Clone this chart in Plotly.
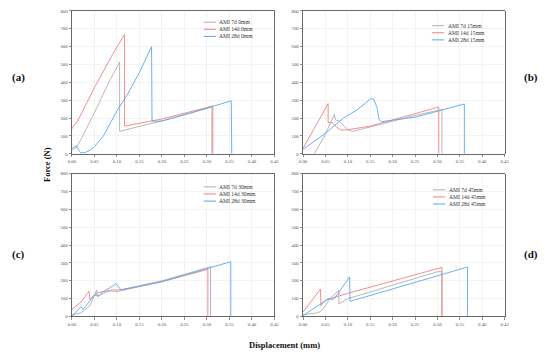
import plotly.graph_objects as go

# ---------------- data ----------------
panel_tags = ["(a)", "(b)", "(c)", "(d)"]
series_names = [
    ["AMI 7d 0mm", "AMI 14d 0mm", "AMI 28d 0mm"],
    ["AMI 7d 15mm", "AMI 14d 15mm", "AMI 28d 15mm"],
    ["AMI 7d 30mm", "AMI 14d 30mm", "AMI 28d 30mm"],
    ["AMI 7d 45mm", "AMI 14d 45mm", "AMI 28d 45mm"],
]
x_ticks = [0.00, 0.05, 0.10, 0.15, 0.20, 0.25, 0.30, 0.35, 0.40, 0.45]
y_ticks = [0, 100, 200, 300, 400, 500, 600, 700, 800]

# panel (a) 0 mm
a7_x = [0.000, 0.010, 0.020, 0.050, 0.080, 0.106, 0.106, 0.200, 0.311, 0.311]
a7_y = [20, 35, 80, 230, 390, 514, 126, 185, 263, 0]
a14_x = [0.000, 0.005, 0.012, 0.050, 0.090, 0.117, 0.117, 0.200, 0.313, 0.313]
a14_y = [140, 160, 180, 370, 555, 668, 155, 195, 268, 0]
a28_x = [0.000, 0.005, 0.010, 0.015, 0.020, 0.030, 0.040, 0.050, 0.070, 0.100,
         0.125, 0.150, 0.177, 0.178, 0.200, 0.280, 0.354, 0.355]
a28_y = [30, 40, 45, 20, 5, 8, 20, 40, 100, 240, 340, 455, 600, 183, 183, 240, 297, 0]

# panel (b) 15 mm
b7_x = [0.025, 0.050, 0.070, 0.072, 0.080, 0.090, 0.100, 0.110, 0.150, 0.250, 0.310, 0.310]
b7_y = [0, 110, 222, 190, 185, 160, 135, 125, 150, 215, 248, 0]
b14_x = [0.000, 0.056, 0.056, 0.065, 0.075, 0.085, 0.100, 0.150, 0.250, 0.303, 0.303]
b14_y = [30, 281, 174, 175, 150, 132, 135, 155, 225, 262, 0]
b28_x = [0.000, 0.050, 0.090, 0.100, 0.120, 0.140, 0.152, 0.158, 0.165, 0.170,
         0.175, 0.250, 0.360, 0.360]
b28_y = [25, 115, 200, 215, 245, 285, 310, 305, 260, 190, 180, 205, 279, 0]

# panel (c) 30 mm
c7_x = [0.000, 0.020, 0.040, 0.055, 0.057, 0.070, 0.090, 0.110, 0.200, 0.308, 0.308]
c7_y = [10, 20, 60, 148, 110, 130, 150, 150, 200, 279, 0]
c14_x = [0.000, 0.020, 0.038, 0.040, 0.050, 0.060, 0.080, 0.100, 0.200, 0.302, 0.302]
c14_y = [40, 80, 142, 95, 120, 135, 145, 140, 195, 264, 0]
c28_x = [0.000, 0.010, 0.020, 0.025, 0.040, 0.050, 0.060, 0.070, 0.090, 0.098,
         0.105, 0.110, 0.200, 0.353, 0.353]
c28_y = [0, 30, 55, 40, 90, 120, 118, 140, 170, 185, 160, 150, 195, 307, 0]

# panel (d) 45 mm
d7_x = [0.000, 0.030, 0.039, 0.050, 0.060, 0.080, 0.080, 0.100, 0.300, 0.310, 0.310]
d7_y = [10, 20, 28, 60, 100, 146, 70, 100, 251, 251, 0]
d14_x = [0.000, 0.039, 0.040, 0.045, 0.050, 0.060, 0.100, 0.302, 0.310, 0.310]
d14_y = [25, 153, 60, 80, 90, 100, 130, 273, 275, 0]
d28_x = [0.000, 0.020, 0.040, 0.058, 0.065, 0.070, 0.104, 0.105, 0.367, 0.367]
d28_y = [5, 40, 70, 102, 95, 100, 222, 85, 277, 0]

panels_x = [[a7_x, a14_x, a28_x], [b7_x, b14_x, b28_x], [c7_x, c14_x, c28_x], [d7_x, d14_x, d28_x]]
panels_y = [[a7_y, a14_y, a28_y], [b7_y, b14_y, b28_y], [c7_y, c14_y, c28_y], [d7_y, d14_y, d28_y]]

# ---------------- style ----------------
W, H = 550, 358
colors = ["#b0b0b0", "#f58080", "#5aa8f0"]
serif = "Liberation Serif, Times New Roman, serif"

# plot areas in pixels (left, right, top, bottom)
boxes = [(69, 275, 9, 154), (304, 509, 9, 154), (69, 275, 174, 319), (304, 509, 174, 319)]
legend_pos = [(203, 217, 20.5), (435, 449, 24), (203, 217, 187.5), (436, 450, 190.5)]
tag_pos = [(15, 77), (536, 77), (15, 256), (536, 256)]

fig = go.Figure()
shapes = []
annotations = []

for i in range(4):
    sfx = "" if i == 0 else str(i + 1)
    xa, ya = "x" + sfx, "y" + sfx
    for j in range(3):
        fig.add_trace(go.Scatter(
            x=panels_x[i][j], y=panels_y[i][j], mode="lines",
            line=dict(color=colors[j], width=0.9), name=series_names[i][j],
            xaxis=xa, yaxis=ya, showlegend=False, hoverinfo="skip"))
    l, r, t, b = boxes[i]
    common = dict(showgrid=True, gridcolor="#ebebeb", gridwidth=0.6,
                  showline=True, linecolor="#444444", linewidth=0.8, mirror=True,
                  ticks="outside", ticklen=2.5, tickwidth=0.6, tickcolor="#444444",
                  tickfont=dict(family=serif, size=4.8, color="#555555"),
                  zeroline=False, fixedrange=True)
    fig.layout["xaxis" + sfx] = dict(domain=[l / W, r / W], anchor=ya, range=[0, 0.45],
                                     tickvals=x_ticks, tickformat=".2f", **common)
    fig.layout["yaxis" + sfx] = dict(domain=[1 - b / H, 1 - t / H], anchor=xa, range=[0, 800],
                                     tickvals=y_ticks, **common)
    # legend (drawn in paper space)
    lx0, tx, ly = legend_pos[i]
    for j in range(3):
        yy = 1 - (ly + j * 7.2) / H
        shapes.append(dict(type="line", xref="paper", yref="paper",
                           x0=lx0 / W, x1=(tx - 1.5) / W, y0=yy, y1=yy,
                           line=dict(color=colors[j], width=1)))
        annotations.append(dict(text=series_names[i][j], xref="paper", yref="paper",
                                x=tx / W, y=yy, xanchor="left", yanchor="middle",
                                showarrow=False, font=dict(family=serif, size=5.6, color="#333333")))
    annotations.append(dict(text="<b>" + panel_tags[i] + "</b>", xref="paper", yref="paper",
                            x=tag_pos[i][0] / W, y=1 - tag_pos[i][1] / H,
                            xanchor="center", yanchor="middle", showarrow=False,
                            font=dict(family=serif, size=11, color="#111111")))

annotations.append(dict(text="<b>Force (N)</b>", xref="paper", yref="paper",
                        x=43 / W, y=1 - 165 / H, textangle=-90, xanchor="center", yanchor="middle",
                        showarrow=False, font=dict(family=serif, size=8.5, color="#111111")))
annotations.append(dict(text="<b>Displacement (mm)</b>", xref="paper", yref="paper",
                        x=285 / W, y=1 - 348 / H, xanchor="center", yanchor="middle",
                        showarrow=False, font=dict(family=serif, size=8.5, color="#111111")))

fig.update_layout(width=W, height=H, margin=dict(l=0, r=0, t=0, b=0),
                  paper_bgcolor="white", plot_bgcolor="white",
                  shapes=shapes, annotations=annotations, showlegend=False)

fig.write_html("out.html", config={"displayModeBar": False, "staticPlot": True},
               post_script="document.body.style.margin='0';document.body.style.overflow='hidden';")
